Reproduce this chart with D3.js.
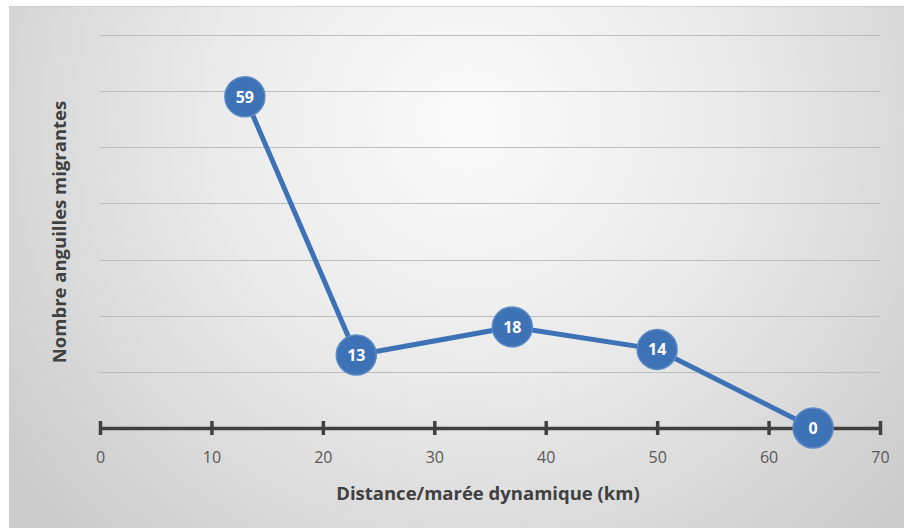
<!DOCTYPE html>
<html>
<head>
<meta charset="utf-8">
<script src="https://cdn.jsdelivr.net/npm/d3@7"></script>
<style>
  body { margin: 0; background: #ffffff; }
  text { font-family: "Open Sans", "Noto Sans", sans-serif; }
</style>
</head>
<body>
<div class="chart"></div>
<script>
var distances = [13, 23, 37, 50, 64];
var eels = [59, 13, 18, 14, 0];
var xTicks = [0, 10, 20, 30, 40, 50, 60, 70];
var yGrid = [10, 20, 30, 40, 50, 60, 70];

function init() {
  var w = 904;
  var h = 528;
  var left = 100, right = 880, top = 35, bottom = 428;

  var svg = d3.select(".chart")
    .append("svg")
    .attr("width", w)
    .attr("height", h);

  var defs = svg.append("defs");
  var grad = defs.append("radialGradient")
    .attr("id", "bg")
    .attr("gradientUnits", "userSpaceOnUse")
    .attr("cx", 470).attr("cy", 120).attr("r", 580);
  grad.append("stop").attr("offset", "0%").attr("stop-color", "#fbfbfb");
  grad.append("stop").attr("offset", "45%").attr("stop-color", "#eaeaea");
  grad.append("stop").attr("offset", "100%").attr("stop-color", "#cbcbcb");

  svg.append("rect")
    .attr("x", 9).attr("y", 6)
    .attr("width", w - 9).attr("height", h - 6)
    .style("fill", "url(#bg)");
  svg.append("line")
    .attr("x1", 9).attr("x2", w).attr("y1", 6.5).attr("y2", 6.5)
    .style("stroke", "#cfcfcf").style("stroke-width", 1);

  var xScale = d3.scaleLinear().domain([0, 70]).range([left, right]);
  var yScale = d3.scaleLinear().domain([0, 70]).range([bottom, top]);

  // gridlines
  svg.selectAll(".grid")
    .data(yGrid)
    .enter().append("line")
    .attr("class", "grid")
    .attr("x1", left).attr("x2", right)
    .attr("y1", function(d) { return Math.round(yScale(d)) + 0.5; })
    .attr("y2", function(d) { return Math.round(yScale(d)) + 0.5; })
    .style("stroke", "#bdbdbd")
    .style("stroke-width", 1);

  // x axis
  var xAxis = d3.axisBottom(xScale)
    .tickValues(xTicks)
    .tickSizeInner(0)
    .tickSizeOuter(0)
    .tickPadding(24);

  var gx = svg.append("g")
    .attr("transform", "translate(0," + bottom + ")")
    .call(xAxis);
  gx.select(".domain")
    .style("stroke", "#404040")
    .style("stroke-width", 3.5);
  gx.selectAll(".tick line").remove();
  gx.selectAll(".tick")
    .append("line")
    .attr("y1", -7).attr("y2", 7)
    .style("stroke", "#404040")
    .style("stroke-width", 3.5);
  gx.selectAll(".tick text")
    .style("fill", "#595959")
    .style("font-size", "16px")
    .style("font-family", "'Open Sans', sans-serif");

  // line
  var line = d3.line()
    .x(function(d, i) { return xScale(distances[i]); })
    .y(function(d) { return yScale(d); });

  svg.append("path")
    .datum(eels)
    .attr("d", line)
    .style("fill", "none")
    .style("stroke", "#3e72b6")
    .style("stroke-width", 5)
    .style("stroke-linejoin", "round");

  var pts = svg.selectAll(".pt")
    .data(eels)
    .enter().append("g")
    .attr("class", "pt")
    .attr("transform", function(d, i) {
      return "translate(" + xScale(distances[i]) + "," + yScale(d) + ")";
    });

  pts.append("circle")
    .attr("r", 20)
    .style("fill", "#3e72b6")
    .style("stroke", "#5b8ac6")
    .style("stroke-width", 1.5);

  pts.append("text")
    .attr("text-anchor", "middle")
    .attr("dy", "0.36em")
    .style("fill", "#ffffff")
    .style("font-weight", "bold")
    .style("font-size", "16px")
    .text(function(d) { return d; });

  // axis titles
  svg.append("text")
    .attr("x", 488)
    .attr("y", 500)
    .attr("text-anchor", "middle")
    .style("fill", "#404040")
    .style("font-weight", "bold")
    .style("font-size", "18.5px")
    .text("Distance/marée dynamique (km)");

  svg.append("text")
    .attr("transform", "rotate(-90)")
    .attr("x", -232)
    .attr("y", 66)
    .attr("text-anchor", "middle")
    .style("fill", "#404040")
    .style("font-weight", "bold")
    .style("font-size", "18.5px")
    .text("Nombre anguilles migrantes");
}

window.onload = init;
</script>
</body>
</html>
